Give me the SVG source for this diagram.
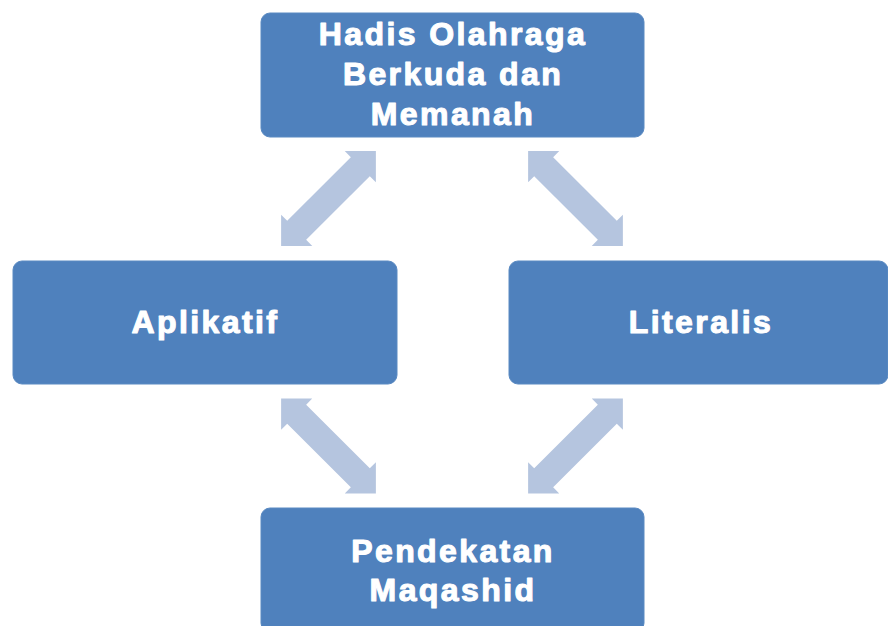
<svg xmlns="http://www.w3.org/2000/svg" width="888" height="626" viewBox="0 0 888 626">
<defs>
<style>
.box{fill:#4F81BD;stroke:#5A8AC2;stroke-width:1}
.lbl{fill:#FFFFFF;stroke:#FFFFFF;stroke-width:1.1px;stroke-linejoin:round;font-family:"Liberation Sans",Arial,sans-serif;font-weight:bold;font-size:32px;letter-spacing:2.4px;text-anchor:middle}
.arr{fill:#B5C5DF}
</style>
<polygon id="dbl" points="-67,0 -45,-22 -45,-13.4 45,-13.4 45,-22 67,0 45,22 45,13.4 -45,13.4 -45,22"/>
</defs>
<rect width="888" height="626" fill="#FFFFFF"/>
<g id="connectors" class="arr">
<use href="#dbl" transform="translate(328.5,198.5) rotate(-45)"/>
<use href="#dbl" transform="translate(575.5,198.5) rotate(45)"/>
<use href="#dbl" transform="translate(328.5,446) rotate(45)"/>
<use href="#dbl" transform="translate(575.5,446) rotate(-45)"/>
</g>
<g id="node-top">
<rect class="box" x="261" y="13" width="383" height="124" rx="9"/>
<text class="lbl" x="453" y="45">Hadis Olahraga</text>
<text class="lbl" x="453" y="85">Berkuda dan</text>
<text class="lbl" x="453" y="125">Memanah</text>
</g>
<g id="node-left">
<rect class="box" x="13" y="261" width="384" height="123" rx="9"/>
<text class="lbl" x="205.5" y="333">Aplikatif</text>
</g>
<g id="node-right">
<rect class="box" x="509" y="261" width="379" height="123" rx="9"/>
<text class="lbl" x="701" y="333">Literalis</text>
</g>
<g id="node-bottom">
<rect class="box" x="261" y="508" width="383" height="124" rx="9"/>
<text class="lbl" x="453" y="562">Pendekatan</text>
<text class="lbl" x="453" y="601">Maqashid</text>
</g>
</svg>
